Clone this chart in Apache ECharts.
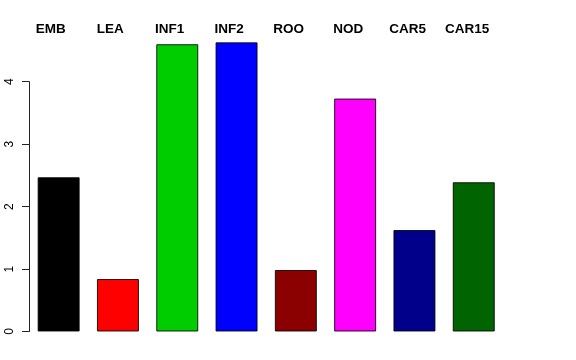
<!DOCTYPE html>
<html>
<head>
<meta charset="utf-8">
<script src="https://cdn.jsdelivr.net/npm/echarts@6/dist/echarts.min.js"></script>
<style>html,body{margin:0;padding:0;background:#fff}#c{width:576px;height:360px}</style>
</head>
<body>
<div id="c"></div>
<script>
var categories = ['EMB', 'LEA', 'INF1', 'INF2', 'ROO', 'NOD', 'CAR5', 'CAR15'];
var values = [2.47, 0.84, 4.60, 4.63, 0.985, 3.73, 1.625, 2.39];
var barColors = ['#000000', '#FF0000', '#00CD00', '#0000FF', '#8B0000', '#FF00FF', '#00008B', '#006400'];
var yTicks = [0, 1, 2, 3, 4];

var chart = echarts.init(document.getElementById('c'), null, {renderer: 'canvas'});
chart.setOption({
  animation: false,
  backgroundColor: '#ffffff',
  grid: [
    {left: 29, width: 474.4, top: 81.7, bottom: 28.5, containLabel: false},
    {left: 21, width: 476, top: 29.5, height: 10, containLabel: false}
  ],
  xAxis: [
    {type: 'category', gridIndex: 0, data: categories, show: false},
    {type: 'category', gridIndex: 1, position: 'top', data: categories,
     axisLine: {show: false}, axisTick: {show: false},
     axisLabel: {margin: 0, verticalAlign: 'middle', fontFamily: 'Liberation Sans', fontWeight: 'bold', fontSize: 13.5, color: '#000'}}
  ],
  yAxis: [
    {type: 'value', gridIndex: 0, min: 0, max: 4, interval: 1,
     splitLine: {show: false},
     axisLine: {show: true, lineStyle: {color: '#222', width: 1}},
     axisTick: {show: true, length: 7, lineStyle: {color: '#222'}, customValues: yTicks},
     axisLabel: {show: true, rotate: 90, margin: 13, fontFamily: 'Liberation Sans', fontSize: 12, color: '#000', customValues: yTicks}},
    {type: 'value', gridIndex: 1, show: false}
  ],
  series: [{
    type: 'bar',
    xAxisIndex: 0, yAxisIndex: 0,
    clip: false,
    barWidth: 42,
    data: values.map(function (v, i) {
      return {value: v, itemStyle: {color: barColors[i]}};
    }),
    itemStyle: {borderColor: 'rgba(0,0,0,0.85)', borderWidth: 1}
  }]
});
</script>
</body>
</html>
